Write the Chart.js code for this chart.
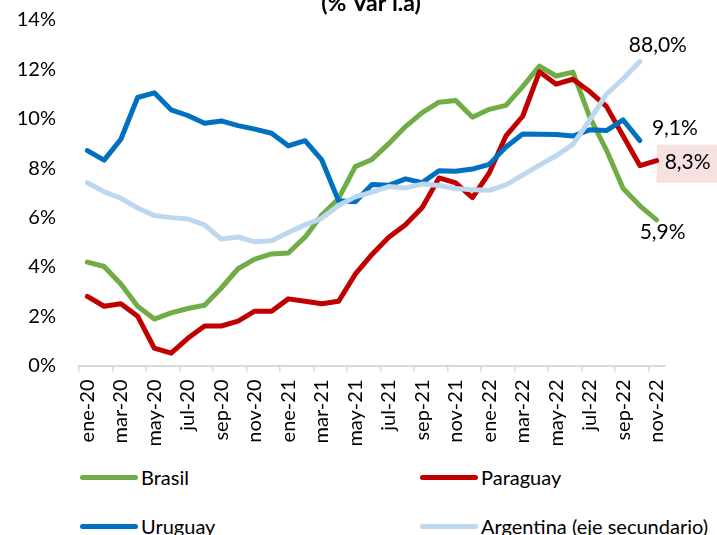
<!DOCTYPE html>
<html>
<head>
<meta charset="utf-8">
<script src="https://cdn.jsdelivr.net/npm/chart.js@4.4.0/dist/chart.umd.min.js"></script>
<style>
  body { margin: 0; background: #fff; }
  #wrap { position: relative; width: 717px; height: 535px; overflow: hidden; font-family: Lato, sans-serif; }
  #c { position: absolute; left: 0; top: 0; }
  .leg { position: absolute; font-size: 20px; color: #000; display: flex; align-items: center; height: 26px; white-space: nowrap; }
  .leg .ln { display: inline-block; width: 58px; height: 5px; border-radius: 3px; margin-right: 3px; }
</style>
</head>
<body>
<div id="wrap">
  <canvas id="c" width="717" height="460"></canvas>
  <div id="legend"></div>
</div>
<script>
// datos
const titulo = '(% Var i.a)';
const meses = ['ene-20','feb-20','mar-20','abr-20','may-20','jun-20','jul-20','ago-20','sep-20','oct-20','nov-20','dic-20',
               'ene-21','feb-21','mar-21','abr-21','may-21','jun-21','jul-21','ago-21','sep-21','oct-21','nov-21','dic-21',
               'ene-22','feb-22','mar-22','abr-22','may-22','jun-22','jul-22','ago-22','sep-22','oct-22','nov-22'];
const brasil   = [4.19,4.01,3.30,2.40,1.88,2.13,2.31,2.44,3.14,3.92,4.31,4.52,4.56,5.20,6.10,6.76,8.06,8.35,8.99,9.68,10.25,10.67,10.74,10.06,10.38,10.54,11.30,12.13,11.73,11.89,10.07,8.73,7.17,6.47,5.90];
const paraguay = [2.8,2.4,2.5,2.0,0.7,0.5,1.1,1.6,1.6,1.8,2.2,2.2,2.7,2.6,2.5,2.6,3.7,4.5,5.2,5.7,6.4,7.6,7.4,6.8,7.8,9.3,10.1,11.9,11.4,11.6,11.1,10.5,9.3,8.1,8.3];
const uruguay  = [8.71,8.32,9.17,10.86,11.05,10.36,10.13,9.82,9.91,9.72,9.58,9.41,8.90,9.11,8.33,6.68,6.64,7.33,7.30,7.56,7.41,7.89,7.87,7.96,8.15,8.85,9.38,9.37,9.36,9.30,9.55,9.52,9.95,9.11,null];
const argentina = [52.9,50.3,48.4,45.6,43.4,42.8,42.4,40.7,36.6,37.2,35.8,36.1,38.5,40.7,42.6,46.3,48.8,50.2,51.8,51.4,52.5,52.1,51.2,50.9,50.7,52.3,55.1,58.0,60.7,64.0,71.0,78.5,83.0,88.0,null];
const nombres = ['Brasil', 'Paraguay', 'Uruguay', 'Argentina (eje secundario)'];
const colores = ['#70AD47', '#C00000', '#0070C0', '#BDD7EE'];

// posicion de las etiquetas del ultimo dato (dx, dy respecto al punto)
const offsEtiq = [[6, 12], [31, 2], [35, -12], [18, -16]];

const series = [brasil, paraguay, uruguay, argentina];

function ultimo(arr) {
  let k = arr.length - 1;
  while (arr[k] == null) k--;
  return k;
}

const extras = {
  id: 'extras',
  beforeDatasetsDraw(chart) {
    // recuadro rosado detras de la etiqueta de Paraguay
    const ctx = chart.ctx;
    const pt = chart.getDatasetMeta(1).data[ultimo(paraguay)];
    ctx.save();
    ctx.fillStyle = '#F6E1E1';
    ctx.fillRect(pt.x, pt.y + offsEtiq[1][1] - 18, 62, 38);
    ctx.restore();
  },
  afterDatasetsDraw(chart) {
    const ctx = chart.ctx;
    ctx.save();
    ctx.fillStyle = '#000';
    ctx.font = 'bold 23px Lato';
    ctx.textAlign = 'center';
    ctx.textBaseline = 'alphabetic';
    ctx.fillText(titulo, 371, 11);

    ctx.font = '21px Lato';
    ctx.textBaseline = 'middle';
    series.forEach((arr, i) => {
      const k = ultimo(arr);
      const pt = chart.getDatasetMeta(i).data[k];
      const txt = arr[k].toFixed(1).replace('.', ',') + '%';
      ctx.fillText(txt, pt.x + offsEtiq[i][0], pt.y + offsEtiq[i][1]);
    });
    ctx.restore();
  }
};

const datasets = series.map((arr, i) => ({
  label: nombres[i],
  data: arr,
  borderColor: colores[i],
  backgroundColor: colores[i],
  borderWidth: 5,
  pointRadius: 0,
  tension: 0,
  borderJoinStyle: 'round',
  borderCapStyle: 'round',
  yAxisID: i === 3 ? 'y2' : 'y',
  order: 3 - i
}));

new Chart(document.getElementById('c'), {
  type: 'line',
  data: { labels: meses, datasets: datasets },
  options: {
    responsive: false,
    animation: false,
    devicePixelRatio: 1,
    layout: { padding: { top: 20, right: 52, left: 0, bottom: 0 } },
    plugins: { legend: { display: false }, tooltip: { enabled: false } },
    scales: {
      x: {
        offset: true,
        grid: {
          offset: true,
          drawOnChartArea: false,
          drawTicks: true,
          tickLength: 6,
          lineWidth: 1.5,
          color: ctx => ctx.index % 2 === 0 ? '#D9D9D9' : 'rgba(0,0,0,0)',
          tickColor: ctx => ctx.index % 2 === 0 ? '#D9D9D9' : 'rgba(0,0,0,0)'
        },
        border: { display: true, color: '#D9D9D9', width: 2 },
        ticks: {
          autoSkip: false,
          minRotation: 90,
          maxRotation: 90,
          padding: 8,
          color: '#000',
          font: { family: 'Lato', size: 20 },
          callback: (v, i) => i % 2 === 0 ? meses[i] : ''
        },
        afterFit: s => { s.height = 94.5; s.paddingLeft = 0; s.paddingRight = 0; }
      },
      y: {
        min: 0,
        max: 14,
        grid: { display: false, drawTicks: false },
        border: { display: false },
        ticks: {
          stepSize: 2,
          padding: 23,
          color: '#000',
          font: { family: 'Lato', size: 20 },
          callback: v => v + '%'
        },
        afterFit: s => { s.width = 79; s.paddingTop = 0; s.paddingBottom = 0; }
      },
      y2: {
        display: false,
        min: 0,
        max: 100
      }
    }
  },
  plugins: [extras]
});

// leyenda en dos columnas
const pos = [[80, 464], [420, 464], [80, 513], [420, 513]];
const leg = document.getElementById('legend');
nombres.forEach((n, i) => {
  const d = document.createElement('div');
  d.className = 'leg';
  d.style.left = pos[i][0] + 'px';
  d.style.top = pos[i][1] + 'px';
  d.innerHTML = '<span class="ln" style="background:' + colores[i] + '"></span>' + n;
  leg.appendChild(d);
});
</script>
</body>
</html>
